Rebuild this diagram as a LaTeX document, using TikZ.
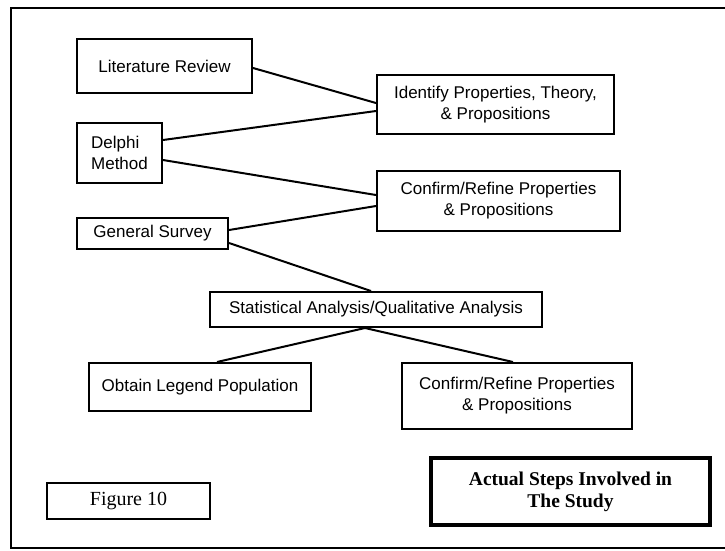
\documentclass[tikz,border=0pt]{standalone}
\usepackage{fontspec}
\setmainfont{Liberation Serif}
\setsansfont{Liberation Sans}
\begin{document}
\begin{tikzpicture}[x=1pt,y=-1pt,
  sbox/.style={draw,line width=2pt,inner sep=0pt,font=\sffamily\fontsize{17}{21}\selectfont,align=center},
  conn/.style={line width=2pt}]
\useasboundingbox (0,0) rectangle (725,550);
\draw[line width=2pt] (11,8) rectangle (728,548);
% nodes
\node[sbox,minimum width=175pt,minimum height=54pt] (lit) at (164.5,66) {Literature Review};
\node[sbox,minimum width=85pt,minimum height=60pt,align=left] (del) at (119.5,153) {Delphi\\Method};
\node[sbox,minimum width=151pt,minimum height=31pt] (gen) at (152.5,233.5) {General Survey};
\node[sbox,minimum width=237pt,minimum height=59pt] (idp) at (495.5,104.5) {Identify Properties, Theory,\\\& Propositions};
\node[sbox,minimum width=243pt,minimum height=60pt] (cf1) at (498.5,201) {Confirm/Refine Properties\\\& Propositions};
\node[sbox,minimum width=332pt,minimum height=35pt] (sta) at (376,309.5) {Statistical Analysis/Qualitative Analysis};
\node[sbox,minimum width=222pt,minimum height=48pt] (obt) at (200,387) {Obtain Legend Population};
\node[sbox,minimum width=230pt,minimum height=66pt] (cf2) at (517,396) {Confirm/Refine Properties\\\& Propositions};
\node[draw,line width=2pt,inner sep=0pt,minimum width=163pt,minimum height=36pt,font=\fontsize{20}{24}\selectfont] (fig) at (128.5,501) {Figure 10};
\node[draw,line width=4pt,inner sep=0pt,minimum width=279pt,minimum height=67pt,align=center,font=\bfseries\fontsize{19.5}{22}\selectfont] (act) at (570.5,491.5) {Actual Steps Involved in\\The Study};
% connectors (yshift is in canvas direction: positive = up)
\draw[conn] ([yshift=-2pt]lit.east) -- ([yshift=1.5pt]idp.west);
\draw[conn] ([yshift=13pt]del.east) -- ([yshift=-6.5pt]idp.west);
\draw[conn] ([yshift=-7pt]del.east) -- ([yshift=6pt]cf1.west);
\draw[conn] ([yshift=3.5pt]gen.east) -- ([yshift=-5pt]cf1.west);
\draw[conn] ([yshift=-9.5pt]gen.east) -- ([xshift=-5pt]sta.north);
\draw[conn] ([xshift=-11pt]sta.south) -- ([xshift=17pt]obt.north);
\draw[conn] ([xshift=-11pt]sta.south) -- ([xshift=-4pt]cf2.north);
\end{tikzpicture}
\end{document}
